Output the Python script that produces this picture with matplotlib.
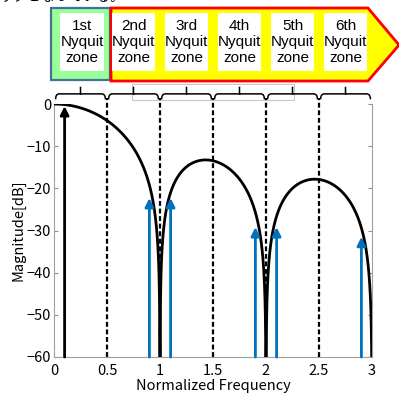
import numpy as np
import matplotlib
matplotlib.use("Agg")
import matplotlib.pyplot as plt
from matplotlib import patches, transforms
from matplotlib.path import Path

plt.rcParams['font.family'] = ['Liberation Sans', 'Noto Sans CJK JP', 'DejaVu Sans']
gothic = ['Noto Sans CJK JP', 'DejaVu Sans']

# data
zone_labels = ["1st", "2nd", "3rd", "4th", "5th", "6th"]
zone_edges = [0, 0.5, 1.0, 1.5, 2.0, 2.5, 3.0]
tone_freq = [0.1, 0.9, 1.1, 1.9, 2.1, 2.9]
tone_level = [-0.5, -22.3, -22.3, -29.2, -29.2, -31.5]
tone_color = ["black", "#0072BD", "#0072BD", "#0072BD", "#0072BD", "#0072BD"]
xticks = [0, 0.5, 1, 1.5, 2, 2.5, 3]
yticks = [0, -10, -20, -30, -40, -50, -60]

# zero-order-hold (sinc) magnitude response
freq = np.linspace(0, 3, 3001)
with np.errstate(divide="ignore"):
    mag = 20 * np.log10(np.abs(np.sinc(freq)))
mag[~np.isfinite(mag)] = -300

W, H = 399, 396
fig = plt.figure(figsize=(W / 100, H / 100), dpi=100)
ax = fig.add_axes([54 / W, 1 - 357 / H, 318 / W, 253 / H])

ax.plot(freq, mag, color="black", lw=2, zorder=3)
ax.set_xlim(0, 3)
ax.set_ylim(-60, 0)

# zone borders
for x in zone_edges[1:-1]:
    ax.plot([x, x], [-60, 1.4], color="black", lw=1.6, ls=(0, (2.2, 1.2)),
            clip_on=False, zorder=4)

# spectral lines
for f, lev, c in zip(tone_freq, tone_level, tone_color):
    ax.annotate("", xy=(f, lev), xytext=(f, -60),
                arrowprops=dict(arrowstyle="-|>,head_length=0.5,head_width=0.25",
                                color=c, lw=2, shrinkA=0, shrinkB=0),
                zorder=5, annotation_clip=False)

ax.set_xticks(xticks)
ax.set_xticklabels([f"{t:g}" for t in xticks], family=gothic)
ax.set_yticks(yticks)
ax.set_yticklabels([f"{t:g}".replace("-", "\u2212") for t in yticks], family=gothic)
ax.tick_params(direction="in", length=3, color="#909090", labelsize=10.5,
               right=True, pad=2)
ax.tick_params(axis="x", pad=5)
for s in ["left", "right", "bottom"]:
    ax.spines[s].set_color("#a0a0a0")
ax.spines["top"].set_visible(False)
ax.set_xlabel("Normalized Frequency", fontsize=10.5, labelpad=1, family=gothic)
ax.set_ylabel("Magnitude[dB]", fontsize=10.5, labelpad=1, family=gothic)

# faint legend remnant
ax.add_patch(patches.Rectangle((0.736, 0.95), 1.528, 3.8, fc="white", ec="#c8c8c8",
                               lw=0.8, clip_on=False, zorder=1))

# braces above each zone
for x0, x1 in zip(zone_edges[:-1], zone_edges[1:]):
    xm = (x0 + x1) / 2
    verts = [(x0 + 0.015, 1.1), (x0 + 0.015, 2.4), (x0 + 0.05, 2.4), (xm, 2.4), (xm, 4.1),
             (xm, 2.4), (x1 - 0.05, 2.4), (x1 - 0.015, 2.4), (x1 - 0.015, 1.1)]
    codes = [Path.MOVETO, Path.CURVE3, Path.CURVE3, Path.LINETO, Path.LINETO,
             Path.MOVETO, Path.LINETO, Path.CURVE3, Path.CURVE3]
    ax.add_patch(patches.PathPatch(Path(verts, codes), fc="none", ec="black", lw=1.1,
                                   clip_on=False, zorder=2))

# Nyquist zone boxes on top
tr = transforms.blended_transform_factory(ax.transData, fig.transFigure)
def fy(p):
    return 1 - p / H

ax.add_artist(patches.Rectangle((-0.03, fy(80)), 0.56, fy(8) - fy(80), transform=tr,
                                fc="#99FF99", ec="#41719C", lw=1.6, clip_on=False))
arrow = [(0.538, fy(8)), (2.962, fy(8)), (3.255, fy(45)), (2.962, fy(81)), (0.538, fy(81))]
ax.add_artist(patches.Polygon(arrow, closed=True, transform=tr, fc="yellow", ec="red",
                              lw=2, joinstyle="miter", clip_on=False))
for i, lab in enumerate(zone_labels):
    xc = (zone_edges[i] + zone_edges[i + 1]) / 2 + (0.015 if i == 0 else 0)
    ax.add_artist(patches.Rectangle((xc - 0.207, fy(71)), 0.414, fy(13) - fy(71),
                                    transform=tr, fc="white", ec="none", clip_on=False))
    ax.text(xc, fy(42), f"{lab}\nNyquit\nzone", transform=tr, ha="center", va="center",
            fontsize=11, linespacing=1.22)

# clipped caption line from the source page
fig.text(0.0, 1 + 3 / H, "ックとなっている。", fontsize=10,
         family=gothic, ha="left", va="center")

fig.savefig("out.png", dpi=100)
